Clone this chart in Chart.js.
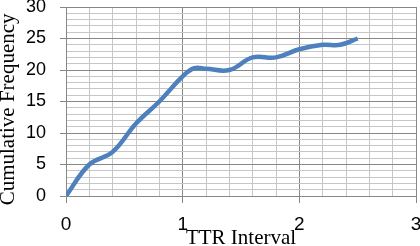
<!DOCTYPE html>
<html>
<head>
<meta charset="utf-8">
<script src="https://cdn.jsdelivr.net/npm/chart.js@4"></script>
<style>
  html, body { margin: 0; padding: 0; background: #fff; }
  #wrap { width: 420px; height: 246px; }
</style>
</head>
<body>
<div id="wrap"><canvas id="myChart"></canvas></div>
<script>
// DATA
const ttrInterval = [0, 0.2, 0.4, 0.6, 0.8, 1.0, 1.1, 1.2, 1.4, 1.6, 1.8, 2.0, 2.2, 2.35, 2.5];
const cumFrequency = [0, 5, 7, 11.5, 15, 19, 20.3, 20.2, 20, 22, 22, 23.3, 24, 24, 25];
const xTicks = [0, 1, 2, 3];
const yTicks = [0, 5, 10, 15, 20, 25, 30];

const MAJOR = '#878787';
const MINOR = '#c6c6c6';

const isMajorX = (v) => xTicks.some(t => Math.abs(t - v) < 1e-6);
const isMajorY = (v) => yTicks.some(t => Math.abs(t - v) < 1e-6);

const data = {
  datasets: [{
    label: 'Cumulative Frequency',
    data: ttrInterval.map((x, i) => ({ x: x, y: cumFrequency[i] })),
    borderColor: '#4d80bd',
    backgroundColor: '#4d80bd',
    borderWidth: 4.5,
    pointRadius: 0,
    tension: 0.4,
    showLine: true,
    fill: false,
  }]
};

// CONFIG
const config = {
  type: 'scatter',
  data,
  options: {
    responsive: true,
    maintainAspectRatio: false,
    animation: false,
    layout: { padding: { top: 7, right: 4, left: 0, bottom: 0 } },
    plugins: {
      legend: { display: false },
      tooltip: { enabled: false },
    },
    scales: {
      x: {
        type: 'linear',
        min: 0,
        max: 3,
        afterFit: (scale) => { scale.height = 50; scale.paddingRight = 0; scale.paddingLeft = 0; },
        ticks: {
          stepSize: 0.2,
          autoSkip: false,
          maxRotation: 0,
          padding: 10,
          color: '#000',
          font: { family: 'Liberation Sans', size: 19 },
          callback: (v) => isMajorX(v) ? String(Math.round(v)) : '',
        },
        grid: {
          color: (ctx) => isMajorX(ctx.tick.value) ? MAJOR : MINOR,
          tickColor: (ctx) => isMajorX(ctx.tick.value) ? MAJOR : 'rgba(0,0,0,0)',
          tickLength: 7,
          lineWidth: 1,
        },
        border: { color: MAJOR },
        title: {
          display: true,
          text: 'TTR Interval',
          color: '#000',
          font: { family: 'Liberation Serif', size: 21, lineHeight: 0.7 },
          padding: 0,
        },
      },
      y: {
        min: 0,
        max: 30,
        afterFit: (scale) => { scale.width = 66; scale.paddingTop = 0; scale.paddingBottom = 0; },
        ticks: {
          stepSize: 1,
          autoSkip: false,
          padding: 14,
          color: '#000',
          font: { family: 'Liberation Sans', size: 18 },
          callback: (v) => isMajorY(v) ? String(Math.round(v)) : '',
        },
        grid: {
          color: (ctx) => isMajorY(ctx.tick.value) ? MAJOR : MINOR,
          tickColor: (ctx) => isMajorY(ctx.tick.value) ? MAJOR : 'rgba(0,0,0,0)',
          tickLength: 6,
          lineWidth: 1,
        },
        border: { color: MAJOR },
        title: {
          display: true,
          // trailing spaces nudge the rotated title down a bit
          text: 'Cumulative Frequency   ',
          color: '#000',
          font: { family: 'Liberation Serif', size: 21, lineHeight: 0.8 },
          padding: 0,
        },
      },
    },
  },
};

// CHART
const myChart = new Chart(document.getElementById('myChart'), config);
</script>
</body>
</html>
